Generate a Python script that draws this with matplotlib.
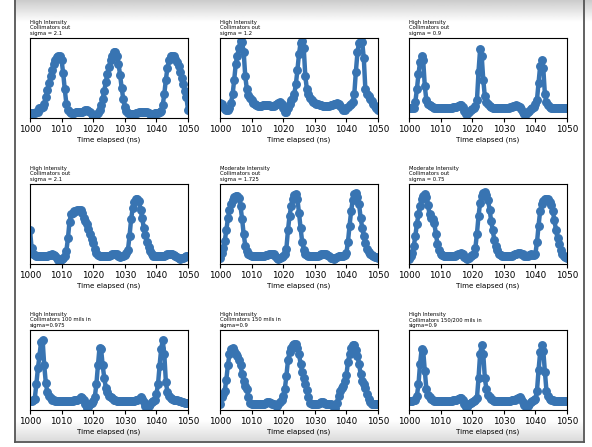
import numpy as np
import matplotlib.pyplot as plt

# time axis, sampled every 0.5 ns
t = np.arange(1000, 1050.5, 0.5)

titles = [
    "High Intensity\nCollimators out\nsigma = 2.1",
    "High Intensity\nCollimators out\nsigma = 1.2",
    "High Intensity\nCollimators out\nsigma = 0.9",
    "High Intensity\nCollimators out\nsigma = 2.1",
    "Moderate Intensity\nCollimators out\nsigma = 1.725",
    "Moderate Intensity\nCollimators out\nsigma = 0.75",
    "High Intensity\nCollimators 100 mils in\nsigma=0.975",
    "High Intensity\nCollimators 150 mils in\nsigma=0.9",
    "High Intensity\nCollimators 150/200 mils in\nsigma=0.9",
]

# signal (relative units)
p1 = [6, 6, 6, 6, 7, 8, 12, 13, 14, 18,
      26, 35, 44, 52, 60, 67, 72, 76, 78, 78,
      72, 56, 36, 18, 10, 7, 6, 6, 6, 7,
      7, 7, 7, 8, 9, 10, 10, 9, 7, 5,
      3, 3, 4, 6, 10, 16, 24, 34, 45, 55,
      64, 72, 78, 82, 82, 78, 68, 54, 38, 24,
      14, 9, 6, 5, 5, 5, 5, 6, 6, 7,
      7, 8, 8, 8, 7, 6, 5, 5, 5, 6,
      6, 6, 7, 9, 16, 30, 48, 63, 72, 77,
      78, 77, 74, 70, 65, 58, 50, 42, 34, 26,
      10]
p2 = [19, 17, 14, 11, 10, 10, 13, 19, 30, 48,
      68, 78, 88, 96, 95, 82, 52, 36, 29, 25,
      22, 19, 17, 16, 15, 15, 15, 16, 16, 16,
      16, 16, 15, 15, 15, 16, 17, 19, 20, 18,
      12, 7, 8, 12, 18, 22, 25, 30, 42, 60,
      80, 94, 96, 88, 52, 36, 30, 25, 22, 20,
      19, 18, 17, 16, 16, 15, 15, 15, 15, 15,
      16, 16, 17, 18, 19, 18, 15, 12, 10, 10,
      12, 14, 16, 18, 20, 30, 58, 82, 94, 96,
      95, 75, 36, 30, 27, 24, 21, 18, 15, 12,
      10]
p3 = [12, 12, 12, 13, 20, 36, 55, 70, 77, 72,
      40, 22, 18, 16, 15, 14, 13, 13, 13, 13,
      12, 12, 13, 13, 13, 13, 13, 13, 14, 14,
      14, 15, 16, 16, 14, 9, 5, 5, 8, 10,
      11, 13, 15, 22, 58, 86, 78, 48, 27, 20,
      17, 15, 14, 13, 13, 13, 13, 13, 13, 13,
      13, 13, 13, 13, 14, 14, 15, 15, 16, 15,
      14, 11, 8, 5, 5, 7, 9, 11, 12, 14,
      17, 23, 44, 65, 73, 62, 30, 20, 16, 14,
      13, 13, 13, 13, 13, 13, 13, 13, 12, 12,
      12]
p4 = [43, 20, 13, 11, 10, 10, 10, 10, 10, 10,
      10, 10, 11, 11, 12, 11, 10, 8, 5, 4,
      6, 8, 10, 16, 32, 53, 62, 64, 66, 66,
      67, 67, 68, 64, 58, 54, 50, 44, 38, 31,
      26, 19, 14, 11, 10, 10, 10, 10, 10, 10,
      10, 11, 12, 13, 13, 12, 10, 9, 10, 10,
      11, 14, 18, 35, 56, 70, 77, 81, 81, 79,
      68, 58, 45, 36, 27, 21, 16, 12, 10, 10,
      10, 10, 10, 10, 10, 10, 11, 12, 13, 13,
      12, 11, 10, 9, 7, 6, 7, 8, 9, 10,
      10]
p5 = [8, 14, 20, 29, 42, 57, 67, 75, 80, 84,
      85, 85, 82, 72, 56, 37, 23, 16, 12, 11,
      10, 10, 10, 10, 10, 10, 10, 10, 10, 11,
      11, 12, 13, 13, 12, 10, 8, 6, 7, 9,
      10, 12, 19, 42, 60, 72, 81, 86, 87, 81,
      64, 45, 28, 18, 13, 11, 10, 10, 10, 10,
      10, 10, 10, 11, 12, 13, 13, 12, 11, 10,
      8, 7, 6, 7, 9, 10, 10, 10, 10, 11,
      14, 28, 48, 66, 80, 88, 89, 84, 75, 58,
      45, 35, 26, 19, 15, 13, 11, 10, 9, 9,
      8]
p6 = [6, 10, 14, 22, 35, 50, 62, 73, 81, 85,
      87, 84, 74, 62, 57, 56, 51, 38, 25, 17,
      13, 11, 10, 10, 10, 10, 10, 10, 10, 10,
      11, 12, 13, 14, 12, 9, 7, 6, 8, 10,
      11, 13, 20, 38, 60, 76, 85, 89, 90, 86,
      80, 68, 54, 42, 30, 23, 17, 13, 11, 10,
      10, 10, 10, 10, 10, 10, 11, 12, 13, 14,
      14, 13, 12, 10, 10, 10, 11, 12, 11, 11,
      13, 27, 48, 66, 75, 79, 81, 81, 81, 78,
      74, 66, 55, 43, 32, 25, 18, 12, 10, 9,
      8]
p7 = [11, 11, 12, 14, 32, 52, 68, 85, 87, 56,
      34, 22, 17, 15, 13, 12, 11, 11, 11, 11,
      11, 11, 11, 11, 11, 11, 11, 11, 12, 13,
      13, 14, 16, 15, 12, 7, 3, 4, 7, 9,
      11, 16, 32, 56, 78, 76, 56, 40, 28, 22,
      18, 16, 15, 13, 12, 11, 11, 11, 11, 11,
      11, 11, 11, 11, 11, 11, 11, 12, 13, 14,
      16, 14, 10, 5, 3, 5, 8, 10, 11, 12,
      20, 32, 55, 76, 87, 70, 35, 22, 17, 15,
      14, 13, 12, 12, 11, 11, 10, 10, 9, 9,
      9]
p8 = [7, 16, 20, 24, 38, 56, 70, 76, 77, 74,
      70, 67, 62, 56, 45, 36, 30, 26, 16, 9,
      8, 8, 8, 8, 8, 8, 8, 8, 8, 9,
      10, 10, 9, 8, 7, 6, 5, 7, 10, 12,
      18, 26, 42, 62, 72, 78, 81, 83, 82, 78,
      70, 58, 48, 40, 32, 25, 16, 9, 8, 8,
      8, 8, 8, 9, 10, 10, 9, 8, 8, 7,
      7, 6, 4, 3, 9, 17, 24, 27, 30, 36,
      44, 60, 70, 77, 81, 81, 75, 68, 58, 45,
      36, 32, 28, 20, 14, 10, 8, 7, 7, 7,
      7]
p9 = [11, 11, 11, 12, 13, 18, 32, 58, 76, 74,
      49, 26, 19, 16, 14, 12, 11, 11, 11, 11,
      11, 11, 11, 11, 11, 11, 11, 11, 12, 12,
      13, 14, 15, 15, 12, 7, 4, 4, 7, 9,
      10, 11, 12, 15, 40, 70, 81, 70, 40, 26,
      19, 16, 14, 12, 11, 11, 11, 11, 11, 11,
      11, 11, 11, 11, 11, 12, 12, 13, 14, 15,
      16, 14, 10, 6, 4, 5, 8, 10, 11, 12,
      14, 24, 50, 72, 81, 74, 48, 24, 17, 14,
      13, 12, 11, 11, 11, 11, 11, 11, 11, 11,
      11]
signals = [p1, p2, p3, p4, p5, p6, p7, p8, p9]

W, H = 592, 447
fig = plt.figure(figsize=(W / 100, H / 100), dpi=100)

# screenshot window frame behind the plots
bg = fig.add_axes([0, 0, 1, 1], zorder=-10)
bg.axis('off')
top_grad = np.linspace(0.80, 1.0, 50).reshape(-1, 1)
bg.imshow(top_grad, cmap='gray', vmin=0, vmax=1, aspect='auto',
          extent=(14, W, 22, 0))
bot_grad = np.linspace(1.0, 0.86, 50).reshape(-1, 1)
bg.imshow(bot_grad, cmap='gray', vmin=0, vmax=1, aspect='auto',
          extent=(15, 583, 441, 420))
bg.plot([14.5, 14.5], [0, 441.5], color='#555555', lw=1.3)
bg.plot([583.5, 583.5], [0, 441.5], color='#555555', lw=1.3)
bg.plot([14.5, 583.5], [441.5, 441.5], color='#555555', lw=1.3)
bg.set_xlim(0, W)
bg.set_ylim(H, 0)

lefts = [30, 220, 409]
tops = [38, 184, 330]
aw, ah = 158, 80

for k in range(9):
    r, c = divmod(k, 3)
    ax = fig.add_axes([lefts[c] / W, (H - tops[r] - ah) / H, aw / W, ah / H])
    ax.plot(t, signals[k], '-o', color='#3874b2', ms=5.4, lw=3.2,
            solid_capstyle='round', solid_joinstyle='round')
    ax.set_xlim(1000, 1050)
    ax.set_ylim(0, 100)
    ax.set_xticks(np.arange(1000, 1051, 10))
    ax.set_yticks([])
    ax.tick_params(axis='x', labelsize=6.3, length=3, width=0.8, pad=2)
    ax.set_xlabel("Time elapsed (ns)", fontsize=5.1, labelpad=2)
    ax.set_title(titles[k], loc='left', fontsize=3.8, pad=2)
    for s in ax.spines.values():
        s.set_linewidth(0.8)

fig.savefig("out.png", dpi=100)
